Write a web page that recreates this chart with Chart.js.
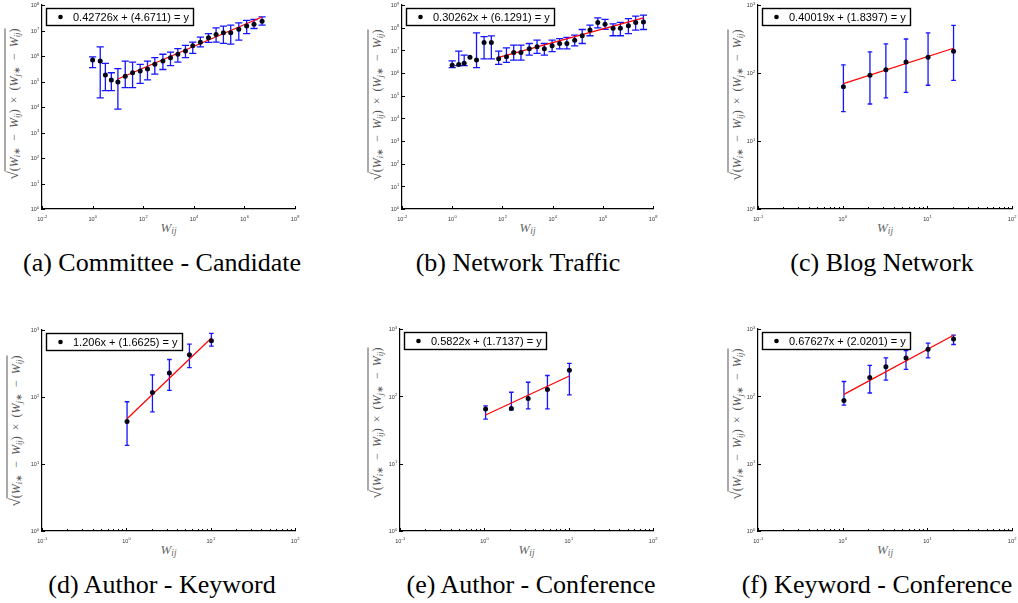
<!DOCTYPE html>
<html>
<head>
<meta charset="utf-8">
<script src="https://cdn.jsdelivr.net/npm/chart.js@4.4.1/dist/chart.umd.min.js"></script>
<style>
  body { margin: 0; background: #fff; }
  #fig { position: relative; width: 1018px; height: 603px; overflow: hidden; background: #fff; }
  canvas { position: absolute; }
  .cap { position: absolute; width: 360px; margin-left: -180px; text-align: center; font: 26px/26px "Liberation Serif", "Times New Roman", serif; color: #000; white-space: nowrap; }
  .xt { position: absolute; transform: translate(-50%, -50%); font: italic 13px "Liberation Serif", serif; color: #666; white-space: nowrap; }
  .yt { position: absolute; transform: translate(-50%, -50%) rotate(-90deg); font: 12px "Liberation Serif", serif; color: #555; white-space: nowrap; }
  .xt sub, .yt sub { font-size: 0.72em; vertical-align: -0.25em; line-height: 0; }
  .yt .ov { border-top: 1px solid #555; padding-top: 1px; }
  .yt .rad { font-size: 15px; }
</style>
</head>
<body>
<div id="fig"></div>
<script>
// (a) Committee - Candidate
var xA = [1, 2, 3.2, 5.5, 10, 19.5, 38, 76, 148, 288, 600, 1200, 2340, 4680, 9100, 18200, 38000, 76000, 148000, 288000, 600000, 1230000, 2400000, 5000000];
var yA = [6.9e5, 6.3e5, 1.8e5, 1.15e5, 9.5e4, 1.6e5, 2.2e5, 2.6e5, 3.1e5, 4.7e5, 6.3e5, 8.5e5, 1.17e6, 1.58e6, 2.5e6, 3.5e6, 5.2e6, 6.9e6, 8.1e6, 8.1e6, 1.12e7, 1.5e7, 1.74e7, 2.3e7];
var hiA = [9.3e5, 2.3e6, 5.1e5, 2.2e5, 3.2e5, 6.3e5, 5.8e5, 4.7e5, 6.3e5, 8.7e5, 1.17e6, 1.41e6, 1.95e6, 2.6e6, 3.5e6, 5.5e6, 7.6e6, 1.26e7, 1.48e7, 1.62e7, 2.0e7, 2.5e7, 2.7e7, 3.4e7];
var loA = [3.5e5, 2.3e4, 4.4e4, 4.4e4, 8.3e3, 5.8e4, 5.8e4, 8.5e4, 1.15e5, 1.95e5, 2.95e5, 4.2e5, 5.8e5, 8.7e5, 1.26e6, 2.3e6, 3.4e6, 3.5e6, 3.1e6, 2.9e6, 4.2e6, 7.6e6, 1.2e7, 1.62e7];
var fitXA = [10, 5.0e6];
var fitYA = [1.26e5, 3.4e7];
var eqA = "0.42726x + (4.6711) = y";

// (b) Network Traffic
var xB = [1, 1.82, 3.0, 5.1, 9.3, 18.6, 36.3, 70.8, 145, 282, 550, 1175, 2400, 4680, 9550, 19050, 37150, 75860, 151360, 309000, 631000, 1230000, 2570000, 5010000, 10470000, 20420000, 41690000];
var yB = [2.19e6, 2.4e6, 2.69e6, 5.0e6, 3.7e6, 2.24e7, 2.24e7, 4.2e6, 5.2e6, 8.1e6, 8.1e6, 1.17e7, 1.45e7, 1.17e7, 1.58e7, 2.0e7, 2.0e7, 2.8e7, 4.4e7, 7.8e7, 1.7e8, 1.41e8, 9.5e7, 9.5e7, 1.2e8, 1.7e8, 1.78e8];
var hiB = [3.4e6, 9.3e6, 6.2e6, null, 5.9e7, 4.0e7, 4.3e7, 9.3e6, 1.29e7, 1.7e7, 1.7e7, 2.0e7, 2.8e7, 2.0e7, 2.8e7, 3.3e7, 3.7e7, 4.7e7, 8.3e7, 1.29e8, 2.7e8, 2.3e8, 1.48e8, 1.7e8, 2.5e8, 3.2e8, 3.6e8];
var loB = [1.74e6, 2.1e6, 2.1e6, null, 1.74e6, 4.2e6, 4.2e6, 2.4e6, 2.95e6, 3.7e6, 3.7e6, 6.2e6, 7.4e6, 6.2e6, 8.7e6, 1.15e7, 1.15e7, 1.58e7, 2.0e7, 4.4e7, 9.8e7, 8.5e7, 4.4e7, 4.4e7, 5.5e7, 7.8e7, 8.3e7];
var fitXB = [70.8, 4.17e7];
var fitYB = [4.89e6, 2.72e8];
var eqB = "0.30262x + (6.1291) = y";

// (c) Blog Network
var xC = [1.02, 2.1, 3.24, 5.6, 10.2, 20.4];
var yC = [63, 93, 112, 145, 170, 209];
var hiC = [132, 204, 269, 316, 389, 501];
var loC = [27, 35, 43, 52, 66, 78];
var fitXC = [1.02, 20.4];
var fitYC = [69.7, 231];
var eqC = "0.40019x + (1.8397) = y";

// (d) Author - Keyword
var xD = [1.02, 2.04, 3.24, 5.6, 10.2];
var yD = [43, 117, 229, 427, 692];
var hiD = [85, 214, 363, 617, 891];
var loD = [19, 60, 126, 275, 575];
var fitXD = [1.02, 10.2];
var fitYD = [47.3, 759];
var eqD = "1.206x + (1.6625) = y";

// (e) Author - Conference
var xE = [1.035, 2.09, 3.31, 5.6, 10.2];
var yE = [65, 66, 93, 126, 245];
var hiE = [72, 115, 162, 204, 309];
var loE = [46, 63, 65, 65, 105];
var fitXE = [1.035, 10.2];
var fitYE = [52.7, 200];
var eqE = "0.5822x + (1.7137) = y";

// (f) Keyword - Conference
var xF = [1.035, 2.09, 3.24, 5.6, 10.2, 20.4];
var yF = [87, 191, 275, 372, 501, 708];
var hiF = [166, 288, 372, 479, 617, 813];
var loF = [74, 112, 174, 251, 372, 589];
var fitXF = [1.035, 20.4];
var fitYF = [107, 805];
var eqF = "0.67627x + (2.0201) = y";

// tick labels (powers of ten)
var xExpWide = [-2, 0, 2, 4, 6, 8];
var xExpNarrow = [-1, 0, 1, 2];
var yExpA = [0, 1, 2, 3, 4, 5, 6, 7, 8];
var yExpB = [0, 1, 2, 3, 4, 5, 6, 7, 8, 9];
var yExpNarrow = [0, 1, 2, 3];

var captions = ["(a) Committee - Candidate", "(b) Network Traffic", "(c) Blog Network",
                "(d) Author - Keyword", "(e) Author - Conference", "(f) Keyword - Conference"];

var panels = [
  {L: 42, R: 295, T: 5, B: 209, xs: xA, ys: yA, hi: hiA, lo: loA, fx: fitXA, fy: fitYA, eq: eqA, xt: xExpWide, yt: yExpA, cap: 3.6, minor: false, capX: 162, ylX: 13, ylY: 104},
  {L: 402, R: 653, T: 5, B: 209, xs: xB, ys: yB, hi: hiB, lo: loB, fx: fitXB, fy: fitYB, eq: eqB, xt: xExpWide, yt: yExpB, cap: 3.6, minor: false, capX: 518, ylX: 376, ylY: 105},
  {L: 758, R: 1012, T: 5, B: 209, xs: xC, ys: yC, hi: hiC, lo: loC, fx: fitXC, fy: fitYC, eq: eqC, xt: xExpNarrow, yt: yExpNarrow, cap: 2.3, minor: true, capX: 882, ylX: 736, ylY: 105},
  {L: 42, R: 295, T: 330, B: 531, xs: xD, ys: yD, hi: hiD, lo: loD, fx: fitXD, fy: fitYD, eq: eqD, xt: xExpNarrow, yt: yExpNarrow, cap: 2.3, minor: true, capX: 162, ylX: 15, ylY: 431},
  {L: 400, R: 653, T: 329, B: 531, xs: xE, ys: yE, hi: hiE, lo: loE, fx: fitXE, fy: fitYE, eq: eqE, xt: xExpNarrow, yt: yExpNarrow, cap: 2.3, minor: true, capX: 531, ylX: 376, ylY: 423},
  {L: 758, R: 1012, T: 329, B: 531, xs: xF, ys: yF, hi: hiF, lo: loF, fx: fitXF, fy: fitYF, eq: eqF, xt: xExpNarrow, yt: yExpNarrow, cap: 2.3, minor: true, capX: 877, ylX: 736, ylY: 424}
];

var fig = document.getElementById("fig");
var SANS = '"Liberation Sans", Arial, sans-serif';
var PAD_L = 40, PAD_T = 8, PAD_R = 8, PAD_B = 16;

// "10" with a small raised exponent
function drawPower(ctx, e, x, y, mode) {
  ctx.font = "5.5px " + SANS;
  var wb = ctx.measureText("10").width;
  ctx.font = "4px " + SANS;
  var ws = ctx.measureText(String(e)).width;
  var start = mode == "x" ? x - (wb + ws) / 2 : x - wb - ws;
  ctx.font = "5.5px " + SANS;
  ctx.fillText("10", start, y);
  ctx.font = "4px " + SANS;
  ctx.fillText(String(e), start + wb + 0.3, y - 2.6);
}

function makeExtras(p) {
  return {
    id: "extras",
    beforeDatasetsDraw: function (chart) {
      var ctx = chart.ctx, xs = chart.scales.x, ys = chart.scales.y;
      ctx.save();
      ctx.strokeStyle = "#1515ff";
      ctx.lineWidth = 1.3;
      for (var i = 0; i < p.xs.length; i++) {
        if (p.hi[i] == null) continue;
        var px = xs.getPixelForValue(p.xs[i]);
        var top = ys.getPixelForValue(p.hi[i]);
        var bot = ys.getPixelForValue(p.lo[i]);
        ctx.beginPath();
        ctx.moveTo(px, top); ctx.lineTo(px, bot);
        ctx.moveTo(px - p.cap, top); ctx.lineTo(px + p.cap, top);
        ctx.moveTo(px - p.cap, bot); ctx.lineTo(px + p.cap, bot);
        ctx.stroke();
      }
      ctx.restore();
    },
    afterDraw: function (chart) {
      var ctx = chart.ctx, xs = chart.scales.x, ys = chart.scales.y, ca = chart.chartArea;
      ctx.save();
      // ticks point inwards
      ctx.strokeStyle = "#000";
      ctx.lineWidth = 1;
      ctx.beginPath();
      p.xt.forEach(function (e) {
        var px = Math.round(xs.getPixelForValue(Math.pow(10, e))) + 0.5;
        ctx.moveTo(px, ca.bottom); ctx.lineTo(px, ca.bottom - 3);
      });
      p.yt.forEach(function (e) {
        var py = Math.round(ys.getPixelForValue(Math.pow(10, e))) + 0.5;
        ctx.moveTo(ca.left, py); ctx.lineTo(ca.left + 3, py);
      });
      if (p.minor) {
        for (var e = p.xt[0]; e < p.xt[p.xt.length - 1]; e++) {
          for (var m = 2; m < 10; m++) {
            var mx = Math.round(xs.getPixelForValue(m * Math.pow(10, e))) + 0.5;
            ctx.moveTo(mx, ca.bottom); ctx.lineTo(mx, ca.bottom - 2);
          }
        }
      }
      ctx.stroke();

      // tick labels
      ctx.fillStyle = "#333";
      ctx.textBaseline = "alphabetic";
      ctx.textAlign = "left";
      p.xt.forEach(function (e) {
        drawPower(ctx, e, xs.getPixelForValue(Math.pow(10, e)), ca.bottom + 11.5, "x");
      });
      p.yt.forEach(function (e) {
        drawPower(ctx, e, ca.left - 3, ys.getPixelForValue(Math.pow(10, e)) + 2.2, "y");
      });

      // legend box
      ctx.font = "11px " + SANS;
      var tw = ctx.measureText(p.eq).width;
      var bx = Math.round(ca.left + 4) + 0.5, by = Math.round(ca.top + 3) + 0.5;
      var bw = Math.round(tw + 31), bh = 17;
      ctx.fillStyle = "#fff";
      ctx.fillRect(bx, by, bw, bh);
      ctx.strokeStyle = "#000";
      ctx.lineWidth = 1.4;
      ctx.strokeRect(bx, by, bw, bh);
      ctx.fillStyle = "#000";
      ctx.beginPath();
      ctx.arc(bx + 14, by + bh / 2, 2.3, 0, Math.PI * 2);
      ctx.fill();
      ctx.textBaseline = "middle";
      ctx.fillText(p.eq, bx + 26.5, by + bh / 2 + 0.5);
      ctx.restore();
    }
  };
}

function createPanel(p, idx) {
  var canvas = document.createElement("canvas");
  var w = p.R - p.L + PAD_L + PAD_R;
  var h = p.B - p.T + PAD_T + PAD_B;
  canvas.width = w;
  canvas.height = h;
  canvas.style.left = (p.L - PAD_L) + "px";
  canvas.style.top = (p.T - PAD_T) + "px";
  canvas.style.width = w + "px";
  canvas.style.height = h + "px";

  var pts = p.xs.map(function (v, i) { return {x: v, y: p.ys[i]}; });
  var fit = p.fx.map(function (v, i) { return {x: v, y: p.fy[i]}; });
  var xe = p.xt, ye = p.yt;

  // captions and axis titles
  var cap = document.createElement("div");
  cap.className = "cap";
  cap.textContent = captions[idx];
  cap.style.left = p.capX + "px";
  cap.style.top = (idx < 3 ? 250 : 571.5) + "px";
  fig.appendChild(cap);

  var xt = document.createElement("div");
  xt.className = "xt";
  xt.innerHTML = "W<sub>ij</sub>";
  xt.style.left = ((p.L + p.R) / 2) + "px";
  xt.style.top = (p.B + 18.5) + "px";
  fig.appendChild(xt);

  var yt = document.createElement("div");
  yt.className = "yt";
  yt.innerHTML = '<span class="rad">\u221A</span><span class="ov">(<i>W</i><sub><i>i</i>\u2217</sub>&ensp;\u2212&ensp;<i>W</i><sub><i>ij</i></sub>)&ensp;\u00D7&ensp;(<i>W</i><sub><i>j</i>\u2217</sub>&ensp;\u2212&ensp;<i>W</i><sub><i>ij</i></sub>)</span>';
  yt.style.left = p.ylX + "px";
  yt.style.top = p.ylY + "px";
  fig.appendChild(yt);

  fig.appendChild(canvas);

  return new Chart(canvas.getContext("2d"), {
    type: "scatter",
    data: {
      datasets: [{
        data: pts,
        backgroundColor: "#05051a",
        borderColor: "#05051a",
        pointRadius: 2.5,
        borderWidth: 0,
        order: 1
      }, {
        data: fit,
        showLine: true,
        borderColor: "#ff0000",
        borderWidth: 1.2,
        pointRadius: 0,
        order: 2
      }]
    },
    options: {
      responsive: false,
      animation: false,
      events: [],
      devicePixelRatio: 1,
      layout: {autoPadding: false, padding: {left: 0, top: PAD_T, right: PAD_R, bottom: 0}},
      plugins: {legend: {display: false}, tooltip: {enabled: false}},
      scales: {
        x: {
          type: "logarithmic",
          position: "bottom",
          min: Math.pow(10, xe[0]),
          max: Math.pow(10, xe[xe.length - 1]),
          grid: {display: false},
          ticks: {display: false},
          border: {display: true, color: "#000", width: 1.2},
          afterFit: function (s) { s.height = PAD_B; }
        },
        y: {
          type: "logarithmic",
          position: "left",
          min: Math.pow(10, ye[0]),
          max: Math.pow(10, ye[ye.length - 1]),
          grid: {display: false},
          ticks: {display: false},
          border: {display: true, color: "#000", width: 1.2},
          afterFit: function (s) { s.width = PAD_L; }
        }
      }
    },
    plugins: [makeExtras(p)]
  });
}

var charts = panels.map(createPanel);
</script>
</body>
</html>
